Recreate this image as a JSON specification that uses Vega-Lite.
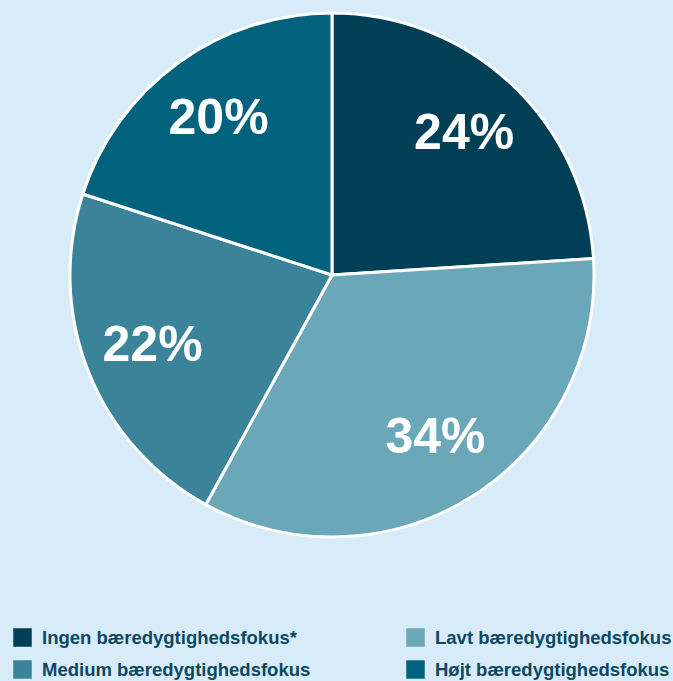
{
  "$schema": "https://vega.github.io/schema/vega-lite/v6.json",
  "width": 664,
  "height": 550,
  "autosize": "none",
  "padding": {"left": 0, "top": 0, "right": 9, "bottom": 131},
  "background": "#d7ebf8",
  "config": {"view": {"stroke": null}},
  "data": {
    "values": [
      {"kategori": "Ingen bæredygtighedsfokus*", "andel": 24, "i": 1, "tekst": "24%"},
      {"kategori": "Lavt bæredygtighedsfokus", "andel": 34, "i": 2, "tekst": "34%"},
      {"kategori": "Medium bæredygtighedsfokus", "andel": 22, "i": 3, "tekst": "22%"},
      {"kategori": "Højt bæredygtighedsfokus", "andel": 20, "i": 4, "tekst": "20%"}
    ]
  },
  "encoding": {
    "theta": {"field": "andel", "type": "quantitative", "stack": true},
    "order": {"field": "i", "type": "quantitative"}
  },
  "layer": [
    {
      "mark": {"type": "arc", "outerRadius": 262, "stroke": "white", "strokeWidth": 3},
      "encoding": {
        "color": {
          "field": "kategori",
          "type": "nominal",
          "scale": {
            "domain": ["Ingen bæredygtighedsfokus*", "Lavt bæredygtighedsfokus", "Medium bæredygtighedsfokus", "Højt bæredygtighedsfokus"],
            "range": ["#003f55", "#6aa7b9", "#3a8399", "#00627c"]
          },
          "legend": {
            "title": null,
            "orient": "none",
            "legendX": 13,
            "legendY": 628,
            "direction": "horizontal",
            "columns": 2,
            "columnPadding": 95,
            "rowPadding": 13,
            "symbolType": "square",
            "symbolSize": 342,
            "symbolStrokeWidth": 0,
            "symbolOffset": 0,
            "labelOffset": 10,
            "labelFont": "Liberation Sans",
            "labelFontWeight": "bold",
            "labelFontSize": 18.5,
            "labelColor": "#0b4862",
            "labelLimit": 400
          }
        }
      }
    },
    {
      "mark": {"type": "text", "radius": 193, "font": "Liberation Sans", "fontWeight": "bold", "fontSize": 50, "fill": "white", "baseline": "middle", "align": "center"},
      "encoding": {"text": {"field": "tekst"}}
    }
  ]
}
